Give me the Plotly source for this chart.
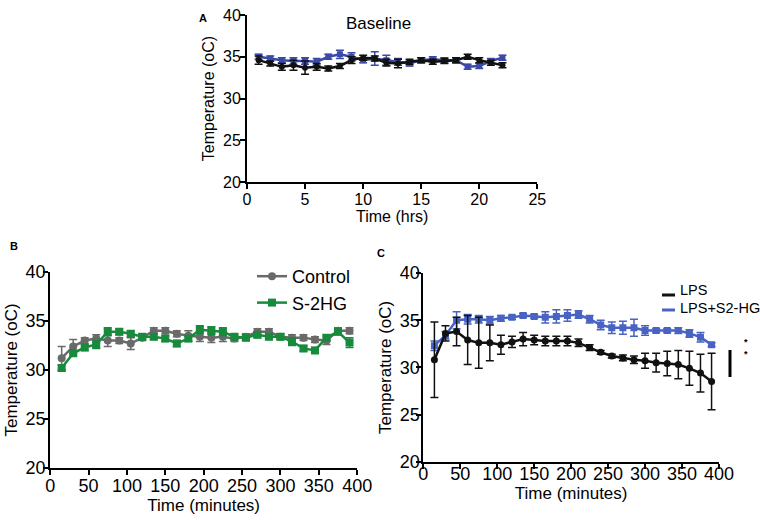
import plotly.graph_objects as go

# ---------------- Data ----------------
# Panel A: Baseline (hours)
hrs = list(range(1, 23))
a_black = [34.6, 34.2, 33.8, 34.0, 33.7, 33.8, 33.6, 33.9, 34.6, 34.9, 34.8, 34.3,
           34.2, 34.4, 34.6, 34.4, 34.5, 34.6, 35.0, 34.6, 34.3, 34.0]
a_black_err = [0.5, 0.3, 0.4, 0.6, 0.8, 0.4, 0.3, 0.3, 0.4, 0.3, 0.3, 0.4,
               0.5, 0.3, 0.3, 0.3, 0.3, 0.3, 0.3, 0.3, 0.3, 0.3]
a_blue = [35.0, 34.8, 34.6, 34.5, 34.5, 34.4, 35.0, 35.3, 35.0, 34.6, 34.8, 34.6,
          34.4, 34.2, 34.6, 34.7, 34.6, 34.6, 33.8, 33.9, 34.5, 34.9]
a_blue_err = [0.3, 0.3, 0.3, 0.4, 0.4, 0.4, 0.3, 0.5, 0.5, 0.3, 0.8, 0.6,
              0.4, 0.3, 0.3, 0.3, 0.3, 0.3, 0.3, 0.3, 0.3, 0.3]

# Panel B: Control vs S-2HG (minutes)
mins = list(range(15, 391, 15))
b_control = [31.2, 32.4, 33.0, 33.2, 33.0, 33.0, 32.7, 33.3, 34.0, 34.0, 33.7, 33.5, 33.4,
             33.3, 33.4, 33.2, 33.4, 33.9, 33.9, 33.4, 33.3, 33.3, 33.1, 33.0, 34.0, 34.0]
b_control_err = [1.2, 0.7, 0.3, 0.4, 0.6, 0.3, 0.6, 0.3, 0.3, 0.3, 0.3, 0.5, 0.5,
                 0.5, 0.5, 0.3, 0.3, 0.3, 0.3, 0.3, 0.3, 0.3, 0.3, 0.4, 0.3, 0.3]
b_s2hg = [30.2, 31.7, 32.3, 32.6, 33.9, 33.9, 33.7, 33.4, 33.4, 33.2, 32.7, 33.2, 34.1,
          34.0, 33.9, 33.4, 33.3, 33.6, 33.4, 33.4, 32.9, 32.2, 32.0, 33.3, 33.9, 32.8]
b_s2hg_err = [0.3, 0.3, 0.3, 0.4, 0.4, 0.3, 0.3, 0.3, 0.3, 0.3, 0.3, 0.3, 0.4,
              0.4, 0.4, 0.3, 0.3, 0.3, 0.3, 0.3, 0.4, 0.3, 0.3, 0.3, 0.3, 0.5]

# Panel C: LPS vs LPS+S2-HG (minutes)
c_lps = [30.8, 33.6, 33.8, 32.9, 32.6, 32.6, 32.4, 32.7, 33.0, 32.9, 32.8, 32.8, 32.8,
         32.6, 32.1, 31.6, 31.2, 31.0, 30.8, 30.7, 30.5, 30.4, 30.3, 29.9, 29.4, 28.5]
c_lps_err = [4.0, 0.8, 1.5, 2.6, 2.7, 1.9, 1.0, 0.6, 0.7, 0.5, 0.5, 0.5, 0.5,
             0.4, 0.3, 0.2, 0.2, 0.3, 0.4, 0.8, 1.0, 1.3, 1.5, 1.8, 2.0, 3.0]
c_combo = [32.3, 33.4, 35.0, 35.1, 35.1, 35.0, 35.2, 35.3, 35.5, 35.4, 35.3, 35.4, 35.5,
           35.6, 35.1, 34.5, 34.2, 34.2, 34.2, 33.9, 33.9, 33.9, 33.9, 33.6, 33.2, 32.4]
c_combo_err = [0.5, 0.4, 0.9, 0.5, 0.4, 0.4, 0.3, 0.2, 0.2, 0.2, 0.6, 0.7, 0.6,
               0.4, 0.4, 0.5, 0.6, 0.7, 0.9, 0.5, 0.2, 0.2, 0.3, 0.4, 0.5, 0.2]

y_ticks = [20, 25, 30, 35, 40]
x_ticks_hrs = [0, 5, 10, 15, 20, 25]
x_ticks_min = [0, 50, 100, 150, 200, 250, 300, 350, 400]

BLACK = "#111111"
BLUE_A = "#3b49a8"
BLUE_C = "#4863c4"
GRAY = "#6a6a6a"
GREEN = "#178a3c"
FONT = "Liberation Sans, Arial, sans-serif"

fig = go.Figure()

def add(x, y, err, color, symbol, xa, ya, size=7, width=2.5):
    fig.add_trace(go.Scatter(
        x=x, y=y, mode="lines+markers", xaxis=xa, yaxis=ya, showlegend=False,
        line=dict(color=color, width=width),
        marker=dict(color=color, symbol=symbol, size=size),
        error_y=dict(type="data", array=err, visible=True, color=color,
                     thickness=1.5, width=4),
    ))

# Panel A
add(hrs, a_blue, a_blue_err, BLUE_A, "square", "x", "y", size=6)
add(hrs, a_black, a_black_err, BLACK, "circle", "x", "y", size=6)
# Panel B
add(mins, b_control, b_control_err, GRAY, "circle", "x2", "y2", size=8)
add(mins, b_s2hg, b_s2hg_err, GREEN, "square", "x2", "y2", size=8)
# Panel C
add(mins, c_combo, c_combo_err, BLUE_C, "square", "x3", "y3", size=7)
add(mins, c_lps, c_lps_err, BLACK, "circle", "x3", "y3", size=7)

# legend entries (panel B)
fig.add_trace(go.Scatter(x=[None], y=[None], mode="lines+markers", name="Control",
                         line=dict(color=GRAY, width=2.5),
                         marker=dict(color=GRAY, symbol="circle", size=8),
                         legend="legend", xaxis="x2", yaxis="y2"))
fig.add_trace(go.Scatter(x=[None], y=[None], mode="lines+markers", name="S-2HG",
                         line=dict(color=GREEN, width=2.5),
                         marker=dict(color=GREEN, symbol="square", size=8),
                         legend="legend", xaxis="x2", yaxis="y2"))

def axis(size_tick, size_title, standoff, **kw):
    d = dict(showline=True, linecolor="black", linewidth=2, ticks="outside",
             tickcolor="black", tickwidth=2, ticklen=5, showgrid=False,
             zeroline=False, automargin=False, ticklabelstandoff=standoff,
             tickfont=dict(size=size_tick, color="black", family=FONT))
    d.update(kw)
    d["title"]["font"] = dict(size=size_title, color="black", family=FONT)
    return d

fig.update_layout(
    width=760, height=520,
    margin=dict(l=0, r=0, t=0, b=0, autoexpand=False),
    paper_bgcolor="white", plot_bgcolor="white",
    font=dict(family=FONT, color="black"),
    xaxis=axis(16, 16, -3, domain=[0.325, 0.707], anchor="y", range=[0, 25],
               tickvals=x_ticks_hrs, title=dict(text="Time (hrs)", standoff=2)),
    yaxis=axis(16, 16, -4, domain=[0.650, 0.971], anchor="x", range=[20, 40],
               tickvals=y_ticks, title=dict(text="Temperature (oC)", standoff=4)),
    xaxis2=axis(18, 17, -5, domain=[0.066, 0.470], anchor="y2", range=[0, 400],
                tickvals=x_ticks_min, title=dict(text="Time (minutes)", standoff=2)),
    yaxis2=axis(18, 17, -6, domain=[0.100, 0.477], anchor="x2", range=[20, 40],
                tickvals=y_ticks, title=dict(text="Temperature (oC)", standoff=4)),
    xaxis3=axis(18, 17, -10, domain=[0.557, 0.946], anchor="y3", range=[0, 400],
                tickvals=x_ticks_min, title=dict(text="Time (minutes)", standoff=2)),
    yaxis3=axis(18, 17, -7, domain=[0.112, 0.475], anchor="x3", range=[20, 40],
                tickvals=y_ticks, title=dict(text="Temperature (oC)", standoff=4)),
    legend=dict(x=252 / 760, y=1 - 258 / 520, xanchor="left", yanchor="top",
                bgcolor="rgba(0,0,0,0)", font=dict(size=18, color="black"),
                itemwidth=30, tracegroupgap=0),
)

def px(x):
    return x / 760

def py(y):
    return 1 - y / 520

annotations = [
    dict(text="<b>A</b>", x=px(197), y=py(10), xref="paper", yref="paper",
         showarrow=False, font=dict(size=11)),
    dict(text="<b>B</b>", x=px(8), y=py(246), xref="paper", yref="paper",
         showarrow=False, font=dict(size=11)),
    dict(text="<b>C</b>", x=px(381), y=py(253), xref="paper", yref="paper",
         showarrow=False, font=dict(size=11)),
    dict(text="Baseline", x=px(378), y=py(12), xref="paper", yref="paper",
         showarrow=False, font=dict(size=17)),
    dict(text="<b>*<br>*</b>", x=px(750), y=py(361), xref="paper", yref="paper",
         showarrow=False, font=dict(size=9, color="black")),
    # panel C legend text
    dict(text="LPS", x=px(678), y=py(290), xref="paper", yref="paper", xanchor="left",
         showarrow=False, font=dict(size=14.5)),
    dict(text="LPS+S2-HG", x=px(678), y=py(308), xref="paper", yref="paper", xanchor="left",
         showarrow=False, font=dict(size=14.5)),
]
fig.update_layout(annotations=annotations)

# significance bar
fig.add_shape(type="line", xref="paper", yref="paper",
              x0=px(730), x1=px(730), y0=py(350), y1=py(377),
              line=dict(color="black", width=3))
# panel C legend lines
fig.add_shape(type="line", xref="paper", yref="paper",
              x0=px(662), x1=px(675), y0=py(295), y1=py(295),
              line=dict(color=BLACK, width=3))
fig.add_shape(type="line", xref="paper", yref="paper",
              x0=px(662), x1=px(675), y0=py(310), y1=py(310),
              line=dict(color=BLUE_C, width=3))

fig.write_html("out.html", config={"displayModeBar": False},
               post_script="document.body.style.margin='0px';document.body.style.overflow='hidden';")
